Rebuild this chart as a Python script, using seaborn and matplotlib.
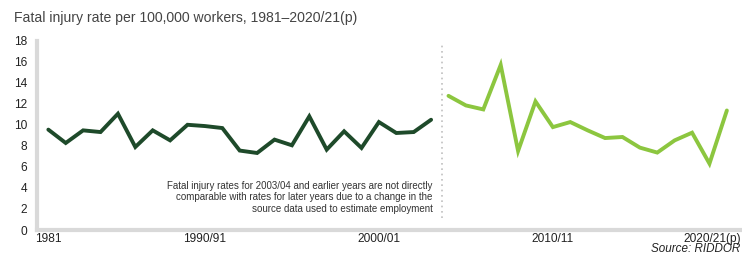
import matplotlib
matplotlib.use("Agg")
import matplotlib.pyplot as plt
import matplotlib.transforms as mtransforms
import seaborn as sns
import pandas as pd

# ---- data ----
periods = ["1981", "1982", "1983", "1984", "1985"] + \
    [f"{y}/{str(y + 1)[-2:]}" for y in range(1986, 2020)] + ["2020/21(p)"]

old_rates = [9.54, 8.27, 9.47, 9.31, 11.05, 7.89, 9.47, 8.52, 10.0, 9.88,
             9.69, 7.55, 7.32, 8.59, 8.05, 10.8, 7.64, 9.38, 7.8, 10.26,
             9.22, 9.31, 10.48]
new_rates = [12.75, 11.84, 11.46, 15.69, 7.51, 12.22, 9.78, 10.26, 9.47,
             8.74, 8.84, 7.83, 7.36, 8.52, 9.25, 6.31, 11.36]

shown_ticks = ["1981", "1990/91", "2000/01", "2010/11", "2020/21(p)"]
y_ticks = [0, 2, 4, 6, 8, 10, 12, 14, 16, 18]

title = "Fatal injury rate per 100,000 workers, 1981\u20132020/21(p)"
note = ("Fatal injury rates for 2003/04 and earlier years are not directly\n"
        "comparable with rates for later years due to a change in the\n"
        "source data used to estimate employment")
source = "Source: RIDDOR"

df = pd.DataFrame({
    "pos": list(range(len(old_rates))) +
           list(range(len(old_rates), len(old_rates) + len(new_rates))),
    "rate": old_rates + new_rates,
    "series": ["old"] * len(old_rates) + ["new"] * len(new_rates),
})

# ---- plot ----
sns.set_theme(style="white")
plt.rcParams["font.family"] = ["Liberation Sans", "DejaVu Sans"]

fig = plt.figure(figsize=(7.42, 2.57), dpi=100)
ax = fig.add_axes([0.0499, 0.105, 0.9501, 0.737])

sns.lineplot(data=df, x="pos", y="rate", hue="series",
             palette={"old": "#1e4a2a", "new": "#8cc63f"},
             linewidth=2.8, ax=ax, legend=False)
for ln in ax.lines:
    ln.set_solid_joinstyle("miter")

ax.axvline(22.6, ymin=0.065, ymax=0.99, color="#c0c0c0",
           linestyle=(0, (1, 2.2)), linewidth=1.2)

ax.set_xlim(-0.65, 39.87)
ax.set_ylim(0, 18)
ax.set_yticks(y_ticks)
ax.set_xticks([periods.index(t) for t in shown_ticks])
ax.set_xticklabels(shown_ticks)
ax.set_xlabel("")
ax.set_ylabel("")
ax.tick_params(axis="both", length=0, labelsize=8.6, colors="#222222")
ax.tick_params(axis="y", pad=7)
ax.tick_params(axis="x", pad=2)

lab = ax.get_xticklabels()[-1]
lab.set_transform(lab.get_transform() +
                  mtransforms.ScaledTranslation(-0.15, 0, fig.dpi_scale_trans))

for s in ["top", "right"]:
    ax.spines[s].set_visible(False)
for s in ["left", "bottom"]:
    ax.spines[s].set_color("#d9d9d9")
    ax.spines[s].set_linewidth(3)

ax.text(22.1, 3.1, note, ha="right", va="center", fontsize=7.0,
        color="#333333", linespacing=1.15)

fig.text(0.019, 0.93, title, ha="left", va="center", fontsize=10.1,
         color="#444444")
fig.text(0.998, 0.006, source, ha="right", va="bottom", fontsize=8.4,
         style="italic", color="#222222")

fig.savefig("out.png", dpi=100)
